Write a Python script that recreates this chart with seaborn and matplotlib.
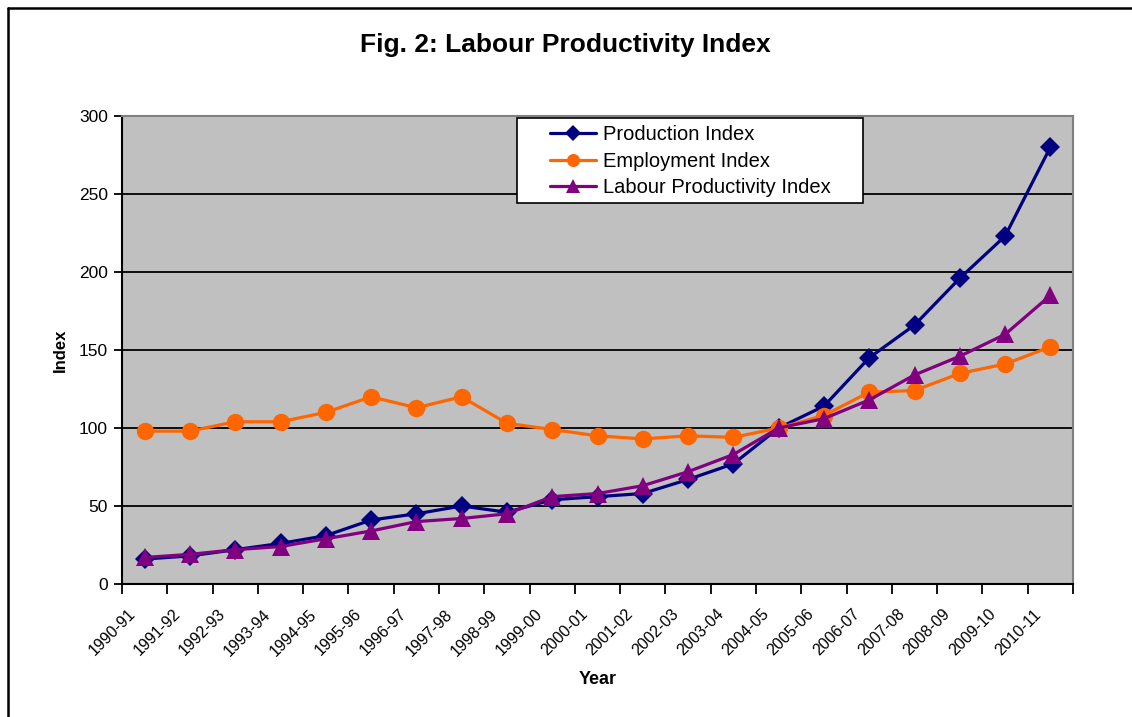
import numpy as np
import pandas as pd
import matplotlib
matplotlib.use("Agg")
import matplotlib.pyplot as plt
import matplotlib.transforms as mtransforms
from matplotlib.lines import Line2D
from matplotlib.patches import Rectangle
import seaborn as sns

years = ["1990-91", "1991-92", "1992-93", "1993-94", "1994-95", "1995-96", "1996-97",
         "1997-98", "1998-99", "1999-00", "2000-01", "2001-02", "2002-03", "2003-04",
         "2004-05", "2005-06", "2006-07", "2007-08", "2008-09", "2009-10", "2010-11"]
production = [16, 18, 22, 26, 31, 41, 45, 50, 46, 54, 56, 58, 67, 77,
              100, 114, 145, 166, 196, 223, 280]
employment = [98, 98, 104, 104, 110, 120, 113, 120, 103, 99, 95, 93, 95, 94,
              100, 108, 123, 124, 135, 141, 152]
productivity = [17, 19, 22, 24, 29, 34, 40, 42, 45, 56, 58, 63, 72, 83,
                100, 106, 118, 134, 146, 160, 185]
series_names = ["Production Index", "Employment Index", "Labour Productivity Index"]

#long form table for seaborn
df = pd.concat([
    pd.DataFrame({"pos": np.arange(len(years)), "value": vals, "series": name})
    for name, vals in zip(series_names, [production, employment, productivity])
])

sns.set_style("white", {"text.color": "black", "axes.labelcolor": "black",
                        "xtick.color": "black", "ytick.color": "black"})
plt.rcParams['font.family'] = ['Liberation Sans', 'DejaVu Sans']

fig = plt.figure(figsize=(11.32, 7.17), dpi=100)
ax = fig.add_axes([122/1132, 1 - 584/717, (1073-122)/1132, (584-116)/717])
ax.set_facecolor("#C0C0C0")

colors = {"Production Index": "#000080", "Employment Index": "#FF6600",
          "Labour Productivity Index": "#800080"}
markers = {"Production Index": "D", "Employment Index": "o",
           "Labour Productivity Index": "^"}
sizes = {"Production Index": 10.5, "Employment Index": 12.5, "Labour Productivity Index": 12.5}

for name in series_names:
    sns.lineplot(data=df[df.series == name], x="pos", y="value", ax=ax,
                 color=colors[name], marker=markers[name], markersize=sizes[name],
                 markeredgewidth=0, linewidth=2.3, label=name, zorder=3)

ax.set_xlim(-0.5, len(years) - 0.5)
ax.set_ylim(0, 300)
ax.set_yticks(np.arange(0, 301, 50))
ax.yaxis.grid(True, color="black", linewidth=1.3)
ax.set_axisbelow(True)

#ticks between categories, labels at the centres
ax.set_xticks(np.arange(-0.5, len(years)), labels=[])
ax.set_xticks(np.arange(len(years)), labels=years, minor=True)
ax.tick_params(axis="x", which="major", direction="out", length=7, width=1.3,
               color="black", bottom=True)
ax.tick_params(axis="x", which="minor", length=0, pad=20, labelsize=11.5)
ax.tick_params(axis="y", direction="out", length=6, width=1.3, color="black",
               left=True, labelsize=12.5, pad=4)
offset = mtransforms.ScaledTranslation(-12/100, 0, fig.dpi_scale_trans)
for lab in ax.get_xticklabels(minor=True):
    lab.set_rotation(45)
    lab.set_ha("right")
    lab.set_va("center")
    lab.set_rotation_mode("anchor")
    lab.set_transform(lab.get_transform() + offset)

for side in ["left", "bottom"]:
    ax.spines[side].set_color("black")
    ax.spines[side].set_linewidth(1.5)
for side in ["top", "right"]:
    ax.spines[side].set_color("#808080")
    ax.spines[side].set_linewidth(1.5)

ax.set_xlabel("Year", fontsize=13, fontweight="bold", labelpad=9, color="black")
ax.set_ylabel("Index", fontsize=12, fontweight="bold", labelpad=8, color="black")
fig.text(565/1132, 1 - 45/717, "Fig. 2: Labour Productivity Index", color="black",
         ha="center", va="center", fontsize=19, fontweight="bold")

#legend box drawn separately so it can be wider than its contents
ax.add_patch(Rectangle(((517-122)/951, (584-203)/468), (863-517)/951, (203-118)/468,
                       transform=ax.transAxes, facecolor="white", edgecolor="black",
                       linewidth=1.2, zorder=4))
leg = ax.legend(loc="upper left", bbox_to_anchor=((550-122)/951, (584-125)/468),
                borderaxespad=0, frameon=False, fontsize=14.5, labelcolor="black",
                handlelength=2.3, handletextpad=0.35, labelspacing=0.38,
                borderpad=0)
leg.set_zorder(5)
for h in leg.legend_handles:
    h.set_markersize(h.get_markersize() * 0.75)

#outer chart border (left and top only visible)
fig.add_artist(Line2D([8/1132, 8/1132], [0, 1 - 8/717], color="black", lw=1.8,
                      transform=fig.transFigure))
fig.add_artist(Line2D([8/1132, 1], [1 - 8/717, 1 - 8/717], color="black", lw=1.8,
                      transform=fig.transFigure))

fig.savefig("out.png", dpi=100)
